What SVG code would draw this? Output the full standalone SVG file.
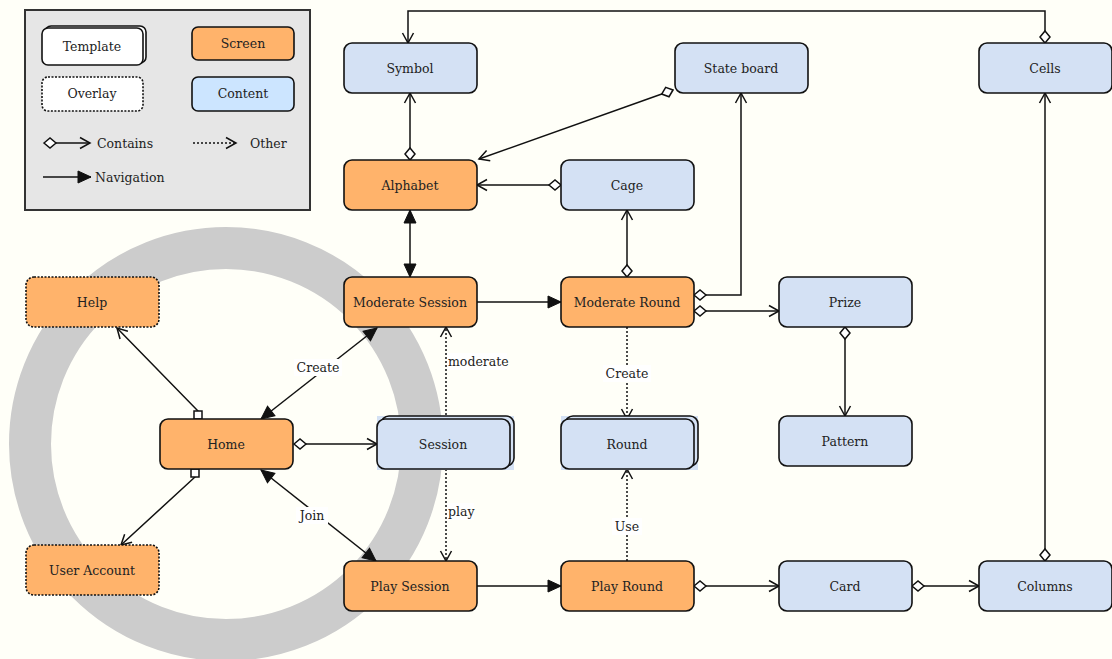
<svg xmlns="http://www.w3.org/2000/svg" width="1112" height="659" viewBox="0 0 1112 659">
  <style>
    text { font-family: "DejaVu Serif", "Liberation Serif", serif; font-size: 12.5px; fill: #222; }
    .c { text-anchor: middle; }
    .node { stroke: #111; stroke-width: 1.6; }
    .screen { fill: #ffb36b; }
    .content { fill: #d4e1f4; }
    .dot { stroke-dasharray: 2 1.5; }
    .line { fill: none; stroke: #111; stroke-width: 1.5; }
    .dotted { stroke-dasharray: 2 2; }
    .lbl { fill: #ffffff; }
  </style>
  <defs>
    <marker id="open" markerUnits="userSpaceOnUse" markerWidth="14" markerHeight="14" viewBox="-12 -7 14 14" refX="0" refY="0" orient="auto" overflow="visible">
      <path d="M-10,-5.5 L0,0 L-10,5.5" fill="none" stroke="#111" stroke-width="1.5"/>
    </marker>
    <marker id="filled" markerUnits="userSpaceOnUse" markerWidth="16" markerHeight="16" viewBox="-14 -8 16 16" refX="0" refY="0" orient="auto-start-reverse" overflow="visible">
      <path d="M-13,-6 L0,0 L-13,6 Z" fill="#111" stroke="#111" stroke-width="1"/>
    </marker>
    <marker id="diamond" markerUnits="userSpaceOnUse" markerWidth="16" markerHeight="16" viewBox="-2 -8 16 16" refX="0" refY="0" orient="auto" overflow="visible">
      <path d="M0,0 L6,-5 L12,0 L6,5 Z" fill="#ffffff" stroke="#111" stroke-width="1.5"/>
    </marker>
    <marker id="square" markerUnits="userSpaceOnUse" markerWidth="12" markerHeight="12" viewBox="-2 -6 12 12" refX="0" refY="0" orient="auto" overflow="visible">
      <rect x="0" y="-4" width="8" height="8" fill="#ffffff" stroke="#111" stroke-width="1.5"/>
    </marker>
  </defs>

  <rect width="1112" height="659" fill="#fffff8"/>

  <!-- ring around the home screen -->
  <circle cx="226" cy="444" r="196" fill="none" stroke="#cccccc" stroke-width="42"/>

  <!-- legend -->
  <g id="legend">
    <rect x="25" y="10" width="285" height="200" fill="#e6e6e6" stroke="#333" stroke-width="2"/>
    <rect x="45" y="26" width="101" height="37" rx="6" fill="#ffffff" class="node"/>
    <rect x="42" y="28" width="101" height="37" rx="6" fill="#ffffff" class="node"/>
    <text x="92" y="51" class="c">Template</text>
    <rect x="192" y="27" width="102" height="33" rx="6" class="node screen"/>
    <text x="243" y="48" class="c">Screen</text>
    <rect x="42" y="77" width="101" height="34" rx="6" fill="#ffffff" class="node dot"/>
    <text x="92" y="98" class="c">Overlay</text>
    <rect x="192" y="77" width="102" height="34" rx="6" fill="#cce5ff" class="node"/>
    <text x="243" y="98" class="c">Content</text>
    <path d="M44,143 L90,143" class="line" marker-start="url(#diamond)" marker-end="url(#open)"/>
    <text x="97" y="147.5">Contains</text>
    <path d="M193,143 L236,143" class="line dotted" marker-end="url(#open)"/>
    <text x="250" y="147.5">Other</text>
    <path d="M43,177 L91,177" class="line" marker-end="url(#filled)"/>
    <text x="95" y="181.5">Navigation</text>
  </g>

  <!-- connectors -->
  <g id="connectors">
    <path d="M1045,43 L1045,11 L408,11 L408,43" class="line" marker-start="url(#diamond)" marker-end="url(#open)"/>
    <path d="M410,160 L410,93" class="line" marker-start="url(#diamond)" marker-end="url(#open)"/>
    <path d="M673,90 L479,159" class="line" marker-start="url(#diamond)" marker-end="url(#open)"/>
    <path d="M561,185 L477,185" class="line" marker-start="url(#diamond)" marker-end="url(#open)"/>
    <path d="M410,210 L410,277" class="line" marker-start="url(#filled)" marker-end="url(#filled)"/>
    <path d="M627,277 L627,210" class="line" marker-start="url(#diamond)" marker-end="url(#open)"/>
    <path d="M477,302 L561,302" class="line" marker-end="url(#filled)"/>
    <path d="M694,295 L741,295 L741,93" class="line" marker-start="url(#diamond)" marker-end="url(#open)"/>
    <path d="M694,311 L779,311" class="line" marker-start="url(#diamond)" marker-end="url(#open)"/>
    <path d="M845,327 L845,416" class="line" marker-start="url(#diamond)" marker-end="url(#open)"/>
    <path d="M627,327 L627,419" class="line dotted" marker-end="url(#open)"/>
    <path d="M446,419 L446,327" class="line dotted" marker-end="url(#open)"/>
    <path d="M446,469 L446,561" class="line dotted" marker-end="url(#open)"/>
    <path d="M627,561 L627,469" class="line dotted" marker-end="url(#open)"/>
    <path d="M477,586 L561,586" class="line" marker-end="url(#filled)"/>
    <path d="M694,586 L779,586" class="line" marker-start="url(#diamond)" marker-end="url(#open)"/>
    <path d="M912,586 L979,586" class="line" marker-start="url(#diamond)" marker-end="url(#open)"/>
    <path d="M1045,561 L1045,93" class="line" marker-start="url(#diamond)" marker-end="url(#open)"/>
    <path d="M294,444 L377,444" class="line" marker-start="url(#diamond)" marker-end="url(#open)"/>
    <path d="M198,419 L198,411 L117,328" class="line" marker-start="url(#square)" marker-end="url(#open)"/>
    <path d="M195,469 L195,477 L121,545" class="line" marker-start="url(#square)" marker-end="url(#open)"/>
    <path d="M377,328 L261,419" class="line" marker-start="url(#filled)" marker-end="url(#filled)"/>
    <path d="M261,470 L376,561" class="line" marker-start="url(#filled)" marker-end="url(#filled)"/>

    <rect x="603" y="365" width="48" height="17" class="lbl"/>
    <text x="627" y="378" class="c">Create</text>
    <rect x="294" y="359" width="48" height="17" class="lbl"/>
    <text x="318" y="372" class="c">Create</text>
    <rect x="296" y="507" width="32" height="17" class="lbl"/>
    <text x="312" y="520" class="c">Join</text>
    <rect x="612" y="518" width="30" height="17" class="lbl"/>
    <text x="627" y="531" class="c">Use</text>
    <rect x="447" y="353" width="60" height="17" class="lbl"/>
    <text x="448" y="366">moderate</text>
    <rect x="447" y="503" width="27" height="17" class="lbl"/>
    <text x="448" y="516">play</text>
  </g>

  <!-- nodes -->
  <g id="symbol">
    <rect x="344" y="43" width="133" height="50" rx="8" class="node content"/>
    <text x="410" y="72.5" class="c">Symbol</text>
  </g>
  <g id="state-board">
    <rect x="675" y="43" width="133" height="50" rx="8" class="node content"/>
    <text x="741" y="72.5" class="c">State board</text>
  </g>
  <g id="cells">
    <rect x="979" y="43" width="133" height="50" rx="8" class="node content"/>
    <text x="1045" y="72.5" class="c">Cells</text>
  </g>
  <g id="alphabet">
    <rect x="344" y="160" width="133" height="50" rx="8" class="node screen"/>
    <text x="410" y="189.5" class="c">Alphabet</text>
  </g>
  <g id="cage">
    <rect x="561" y="160" width="133" height="50" rx="8" class="node content"/>
    <text x="627" y="189.5" class="c">Cage</text>
  </g>
  <g id="help">
    <rect x="26" y="277" width="133" height="50" rx="8" class="node screen dot"/>
    <text x="92" y="306.5" class="c">Help</text>
  </g>
  <g id="moderate-session">
    <rect x="344" y="277" width="133" height="50" rx="8" class="node screen"/>
    <text x="410" y="306.5" class="c">Moderate Session</text>
  </g>
  <g id="moderate-round">
    <rect x="561" y="277" width="133" height="50" rx="8" class="node screen"/>
    <text x="627" y="306.5" class="c">Moderate Round</text>
  </g>
  <g id="prize">
    <rect x="779" y="277" width="133" height="50" rx="8" class="node content"/>
    <text x="845" y="306.5" class="c">Prize</text>
  </g>
  <g id="home">
    <rect x="160" y="419" width="133" height="50" rx="8" class="node screen"/>
    <text x="226" y="448.5" class="c">Home</text>
  </g>
  <g id="session">
    <rect x="377" y="416" width="137" height="54" fill="#d4e1f4"/>
    <rect x="381" y="416" width="133" height="50" rx="8" class="node content"/>
    <rect x="377" y="419" width="133" height="50" rx="8" class="node content"/>
    <text x="443" y="448.5" class="c">Session</text>
  </g>
  <g id="round">
    <rect x="561" y="416" width="137" height="54" fill="#d4e1f4"/>
    <rect x="565" y="416" width="133" height="50" rx="8" class="node content"/>
    <rect x="561" y="419" width="133" height="50" rx="8" class="node content"/>
    <text x="627" y="448.5" class="c">Round</text>
  </g>
  <g id="pattern">
    <rect x="779" y="416" width="133" height="50" rx="8" class="node content"/>
    <text x="845" y="445.5" class="c">Pattern</text>
  </g>
  <g id="user-account">
    <rect x="26" y="545" width="133" height="50" rx="8" class="node screen dot"/>
    <text x="92" y="574.5" class="c">User Account</text>
  </g>
  <g id="play-session">
    <rect x="344" y="561" width="133" height="50" rx="8" class="node screen"/>
    <text x="410" y="590.5" class="c">Play Session</text>
  </g>
  <g id="play-round">
    <rect x="561" y="561" width="133" height="50" rx="8" class="node screen"/>
    <text x="627" y="590.5" class="c">Play Round</text>
  </g>
  <g id="card">
    <rect x="779" y="561" width="133" height="50" rx="8" class="node content"/>
    <text x="845" y="590.5" class="c">Card</text>
  </g>
  <g id="columns">
    <rect x="979" y="561" width="133" height="50" rx="8" class="node content"/>
    <text x="1045" y="590.5" class="c">Columns</text>
  </g>
</svg>
